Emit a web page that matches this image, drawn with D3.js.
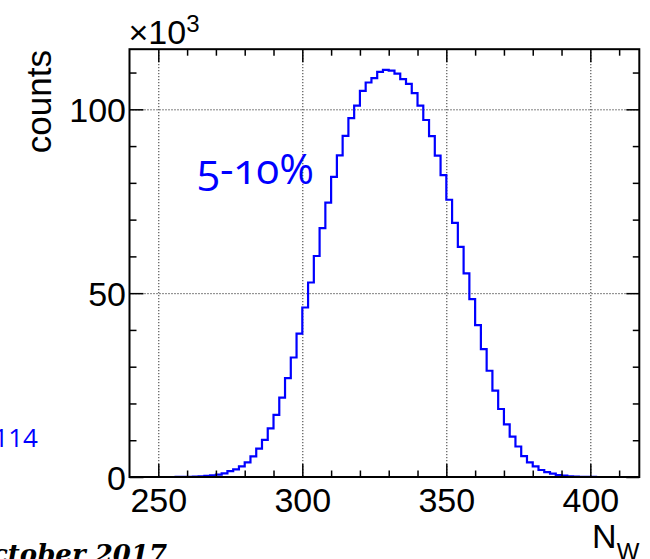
<!DOCTYPE html>
<html><head><meta charset="utf-8">
<script src="https://cdn.jsdelivr.net/npm/d3@7"></script>
<style>body{margin:0;background:#fff}svg{display:block}</style>
</head><body>
<svg id="c" width="650" height="559"></svg>
<script>
// ---- data (counts in units of 10^3), bins of width 2 starting at 240 ----
const binStart = 240;
const binWidth = 2;
const countsK = [
  0,0,0,0,0,0,0,0,
  0.02,0.04,0.07,0.12,0.2,0.3,0.45,
  0.65,1.0,1.6,2.1,2.9,4.0,5.6,7.7,10.1,13.2,16.9,21.6,26.9,32.5,39.0,
  46.1,52.9,60.1,67.7,74.6,81.6,87.5,92.8,97.6,101.0,105.0,107.3,108.5,110.2,110.7,
  110.5,109.7,108.2,106.9,104.4,101.0,97.1,92.7,87.4,82.1,75.4,69.1,62.6,55.4,48.4,
  41.3,34.8,28.9,23.5,18.5,14.3,11.0,8.3,5.7,4.0,2.9,1.9,1.3,0.9,0.55,0.35,0.2,0.12,0.07,0.04,0.02,
  0,0,0,0,0,0,0,0
];
const xMajorTicks = [250,300,350,400];
const xMinorTicks = [260,270,280,290,310,320,330,340,360,370,380,390,410];
const yMajorTicks = [0,50,100];
const yMinorTicks = [10,20,30,40,60,70,80,90,110];
const xDomain = [240,417];
const yDomain = [0,116.35];

const W = 650, H = 559;
const m = {l:129.5, r:10.7, t:49.2, b:82};
const svg = d3.select("#c");
const x = d3.scaleLinear().domain(xDomain).range([m.l, W-m.r]);
const y = d3.scaleLinear().domain(yDomain).range([H-m.b, m.t]);
const pw = W-m.l-m.r, ph = H-m.t-m.b;

svg.append("rect").attr("width",W).attr("height",H).attr("fill","#fff");

// grid
const gx = svg.append("g").attr("transform",`translate(0,${m.t})`)
  .call(d3.axisBottom(x).tickValues(xMajorTicks).tickSize(ph).tickFormat(""));
const gy = svg.append("g").attr("transform",`translate(${m.l},0)`)
  .call(d3.axisRight(y).tickValues([50,100]).tickSize(pw).tickFormat(""));
[gx,gy].forEach(g=>{g.select(".domain").remove();
  g.selectAll("line").attr("stroke","#000").attr("stroke-width",1).attr("stroke-dasharray","1,2");});

// histogram
const clip = svg.append("clipPath").attr("id","pc").append("rect")
  .attr("x",m.l).attr("y",m.t-2).attr("width",pw).attr("height",ph+2);
const bins = countsK.map((v,i)=>({lo:binStart+i*binWidth, hi:binStart+(i+1)*binWidth, v}));
let d = `M${x(binStart)},${y(0)}`;
bins.forEach(b=>{ d += `L${x(b.lo)},${y(b.v)}L${x(b.hi)},${y(b.v)}`; });
svg.append("path").attr("d",d).attr("fill","none").attr("stroke","#0000ff")
  .attr("stroke-width",2.2).attr("stroke-linejoin","miter").attr("clip-path","url(#pc)");

// ticks
function ticks(axis, tr, vals, size){
  const g = svg.append("g").attr("transform",tr).call(axis.tickValues(vals).tickSize(size).tickFormat(""));
  g.select(".domain").remove();
  g.selectAll("line").attr("stroke","#000").attr("stroke-width",1.5);
  return g;
}
const yb = H-m.b, xr = W-m.r;
ticks(d3.axisBottom(x), `translate(0,${yb})`, xMajorTicks, -13);
ticks(d3.axisBottom(x), `translate(0,${yb})`, xMinorTicks, -6.5);
ticks(d3.axisTop(x), `translate(0,${m.t})`, xMajorTicks, -13);
ticks(d3.axisTop(x), `translate(0,${m.t})`, xMinorTicks, -6.5);
ticks(d3.axisLeft(y), `translate(${m.l},0)`, yMajorTicks, -14);
ticks(d3.axisLeft(y), `translate(${m.l},0)`, yMinorTicks, -7);
ticks(d3.axisRight(y), `translate(${xr},0)`, yMajorTicks, -13);
ticks(d3.axisRight(y), `translate(${xr},0)`, yMinorTicks, -6.5);

// frame
svg.append("rect").attr("x",m.l).attr("y",m.t).attr("width",pw).attr("height",ph)
  .attr("fill","none").attr("stroke","#000").attr("stroke-width",2);

// tick labels
const font = "'Liberation Sans', Arial, Helvetica, sans-serif";
const lx = svg.append("g").attr("transform",`translate(0,${yb})`)
  .call(d3.axisBottom(x).tickValues(xMajorTicks).tickSize(0).tickFormat(d3.format("d")));
lx.select(".domain").remove();
lx.selectAll("text").attr("y",35).attr("dy",0).attr("font-family",font).attr("font-size",34).attr("fill","#000");
const ly = svg.append("g").attr("transform",`translate(${m.l},0)`)
  .call(d3.axisLeft(y).tickValues(yMajorTicks).tickSize(0).tickFormat(d3.format("d")));
ly.select(".domain").remove();
ly.selectAll("text").attr("x",-3.5).attr("dy","0.36em").attr("font-family",font).attr("font-size",34).attr("fill","#000");

// exponent
const ex = svg.append("text").attr("x",m.l-1).attr("y",43.5).attr("font-family",font).attr("fill","#000");
ex.append("tspan").attr("font-size",34).text("×10");
ex.append("tspan").attr("font-size",24).attr("dy",-12).text("3");

// axis titles
svg.append("text").attr("transform","translate(51,50) rotate(-90)").attr("text-anchor","end")
  .attr("font-family",font).attr("font-size",35).attr("fill","#000").text("counts");
const xt = svg.append("text").attr("x",xr).attr("y",548.3).attr("text-anchor","end")
  .attr("font-family",font).attr("fill","#000");
xt.append("tspan").attr("font-size",34).text("N");
xt.append("tspan").attr("font-size",24).attr("dy",11.5).text("W");

// annotations
svg.append("text").attr("x",197).attr("y",183.5).attr("font-family","'Open Sans', 'Noto Sans', sans-serif")
  .attr("font-size",42).attr("fill","#0000ff").style("font-variant-numeric","oldstyle-nums")
  .text("5-10%");
svg.append("text").attr("x",38).attr("y",446.5).attr("text-anchor","end")
  .attr("font-family","'Open Sans', 'Noto Sans', sans-serif").attr("font-size",26).attr("fill","#0000ff").text("114");
svg.append("text").attr("x",167).attr("y",563).attr("text-anchor","end")
  .attr("font-family","'DejaVu Serif', serif").attr("font-weight","bold").attr("font-style","italic")
  .attr("font-size",26).attr("fill","#000").text("October 2017");
</script>
</body></html>
